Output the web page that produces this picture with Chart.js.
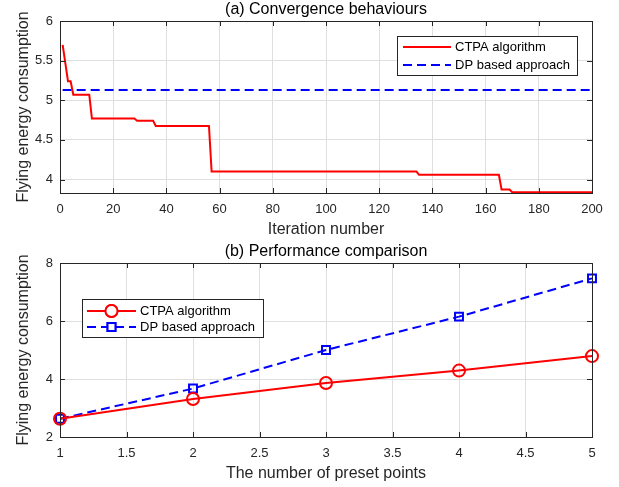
<!DOCTYPE html>
<html>
<head>
<meta charset="utf-8">
<script src="https://cdn.jsdelivr.net/npm/chart.js@4/dist/chart.umd.min.js"></script>
<style>
  body { margin: 0; background: #fff; }
  .panel { position: absolute; left: 0; width: 619px; }
  #top { top: 0; height: 240px; }
  #bottom { top: 240px; height: 247px; }
</style>
</head>
<body>
<div class="panel" id="top"><canvas id="convChart"></canvas></div>
<div class="panel" id="bottom"><canvas id="perfChart"></canvas></div>
<script>
// (a) convergence: breakpoints of the CTPA curve
const iterNum = [1, 3, 4, 5, 11, 12, 28, 29, 35, 36, 56, 57, 134, 135, 165, 166, 169, 170, 200];
const ctpaConv = [5.70, 5.24, 5.24, 5.07, 5.07, 4.77, 4.77, 4.74, 4.74, 4.675, 4.675, 4.10, 4.10, 4.06, 4.06, 3.875, 3.875, 3.84, 3.84];
const dpIter = [1, 200];
const dpConv = [5.13, 5.13];
const convXTicks = [0, 20, 40, 60, 80, 100, 120, 140, 160, 180, 200];
const convYTicks = [4, 4.5, 5, 5.5, 6];

// (b) performance comparison
const presetPoints = [1, 2, 3, 4, 5];
const ctpaPerf = [2.63, 3.31, 3.86, 4.29, 4.79];
const dpPerf = [2.63, 3.67, 5.00, 6.15, 7.47];
const perfXTicks = [1, 1.5, 2, 2.5, 3, 3.5, 4, 4.5, 5];
const perfYTicks = [2, 4, 6, 8];

const FONT = "'Liberation Sans', Arial, Helvetica, sans-serif";
const AXIS = '#262626';
const GRID = '#dfdfdf';
const RED = '#ff0000';
const BLUE = '#0000ff';

// box, inward tick marks, title and legend drawn the MATLAB way
const figDecor = {
  id: 'figDecor',
  afterDatasetsDraw(chart, args, opts) {
    const ctx = chart.ctx;
    const { left, right, top, bottom } = chart.chartArea;
    const xs = chart.scales.x, ys = chart.scales.y;
    ctx.save();
    ctx.strokeStyle = AXIS;
    ctx.lineWidth = 1;
    ctx.beginPath();
    xs.ticks.forEach(t => {
      const px = Math.round(xs.getPixelForValue(t.value)) + 0.5;
      ctx.moveTo(px, bottom); ctx.lineTo(px, bottom - 5);
      ctx.moveTo(px, top); ctx.lineTo(px, top + 5);
    });
    ys.ticks.forEach(t => {
      const py = Math.round(ys.getPixelForValue(t.value)) + 0.5;
      ctx.moveTo(left, py); ctx.lineTo(left + 5, py);
      ctx.moveTo(right, py); ctx.lineTo(right - 5, py);
    });
    ctx.stroke();
    ctx.strokeRect(Math.round(left) + 0.5, Math.round(top) + 0.5,
      Math.round(right - left), Math.round(bottom - top));

    // title
    ctx.fillStyle = '#000';
    ctx.font = '16px ' + FONT;
    ctx.textAlign = 'center';
    ctx.textBaseline = 'middle';
    ctx.fillText(opts.title, (left + right) / 2, opts.titleY);

    // legend
    const lg = opts.legend;
    ctx.fillStyle = '#fff';
    ctx.fillRect(lg.x, lg.y, lg.w, lg.h);
    ctx.strokeStyle = AXIS;
    ctx.strokeRect(lg.x + 0.5, lg.y + 0.5, lg.w, lg.h);
    chart.data.datasets.forEach((ds, i) => {
      const y = lg.y + lg.rowY[i];
      const x0 = lg.x + lg.lineX[0], x1 = lg.x + lg.lineX[1];
      ctx.strokeStyle = ds.borderColor;
      ctx.lineWidth = 2;
      ctx.setLineDash(ds.borderDash || []);
      ctx.beginPath();
      ctx.moveTo(x0, y); ctx.lineTo(x1, y);
      ctx.stroke();
      ctx.setLineDash([]);
      if (ds.pointRadius > 0) {
        ctx.fillStyle = '#fff';
        Chart.helpers.drawPoint(ctx, {
          pointStyle: ds.pointStyle, radius: ds.pointRadius, borderWidth: 2
        }, (x0 + x1) / 2, y);
        ctx.fill();
        ctx.stroke();
      }
      ctx.fillStyle = '#000';
      ctx.font = '13px ' + FONT;
      ctx.textAlign = 'left';
      ctx.fillText(ds.label, lg.x + lg.textX, y);
    });
    ctx.restore();
  }
};

function axisOpts(min, max, tickVals, title, extra) {
  return Object.assign({
    type: 'linear',
    min: min,
    max: max,
    afterBuildTicks: s => { s.ticks = tickVals.map(v => ({ value: v })); },
    grid: { color: GRID, lineWidth: 1, drawTicks: false },
    border: { display: false },
    ticks: {
      color: AXIS,
      font: { family: FONT, size: 13 },
      autoSkip: false,
      maxRotation: 0,
      callback: v => String(v)
    },
    title: { display: true, text: title, color: AXIS, font: { family: FONT, size: 16 } }
  }, extra);
}

Chart.defaults.animation = false;
Chart.defaults.plugins.legend.display = false;
Chart.defaults.plugins.tooltip.enabled = false;

new Chart(document.getElementById('convChart'), {
  type: 'line',
  data: {
    datasets: [
      {
        label: 'CTPA algorithm',
        data: iterNum.map((x, i) => ({ x: x, y: ctpaConv[i] })),
        borderColor: RED,
        borderWidth: 2,
        pointRadius: 0,
        tension: 0
      },
      {
        label: 'DP based approach',
        data: dpIter.map((x, i) => ({ x: x, y: dpConv[i] })),
        borderColor: BLUE,
        borderWidth: 2,
        borderDash: [9, 5],
        pointRadius: 0
      }
    ]
  },
  options: {
    responsive: true,
    maintainAspectRatio: false,
    layout: { padding: { top: 21, right: 27, left: 0, bottom: 0 } },
    scales: {
      x: axisOpts(0, 200, convXTicks, 'Iteration number', {
        afterFit: s => { s.height = 47; }
      }),
      y: axisOpts(3.83, 6, convYTicks, 'Flying energy consumption', {
        afterFit: s => { s.width = 60; }
      })
    },
    plugins: {
      figDecor: {
        title: '(a) Convergence behaviours',
        titleY: 10,
        legend: { x: 397, y: 36, w: 180, h: 39, lineX: [6, 54], textX: 58, rowY: [11, 29] }
      }
    }
  },
  plugins: [figDecor]
});

const convChart = Chart.getChart('convChart');
convChart.options.scales.x.ticks.padding = 9;
convChart.options.scales.x.title.padding = { top: 0, bottom: 0.5 };
convChart.options.scales.y.ticks.padding = 7;
convChart.options.scales.y.title.padding = { top: 13.5, bottom: 0 };
convChart.update();

new Chart(document.getElementById('perfChart'), {
  type: 'line',
  data: {
    datasets: [
      {
        label: 'CTPA algorithm',
        data: presetPoints.map((x, i) => ({ x: x, y: ctpaPerf[i] })),
        borderColor: RED,
        borderWidth: 2,
        pointStyle: 'circle',
        pointRadius: 6,
        pointBorderWidth: 2,
        pointBackgroundColor: 'rgba(255,255,255,0)',
        tension: 0,
        clip: false
      },
      {
        label: 'DP based approach',
        data: presetPoints.map((x, i) => ({ x: x, y: dpPerf[i] })),
        borderColor: BLUE,
        borderWidth: 2,
        borderDash: [9, 5],
        pointStyle: 'rect',
        pointRadius: 5.6,
        pointBorderWidth: 2,
        pointBackgroundColor: 'rgba(255,255,255,0)',
        tension: 0,
        clip: false
      }
    ]
  },
  options: {
    responsive: true,
    maintainAspectRatio: false,
    layout: { padding: { top: 23, right: 27, left: 0, bottom: 0 } },
    scales: {
      x: axisOpts(1, 5, perfXTicks, 'The number of preset points', {
        afterFit: s => { s.height = 50; }
      }),
      y: axisOpts(2, 8, perfYTicks, 'Flying energy consumption', {
        afterFit: s => { s.width = 60; }
      })
    },
    plugins: {
      figDecor: {
        title: '(b) Performance comparison',
        titleY: 12,
        legend: { x: 82, y: 59, w: 181, h: 38, lineX: [5, 54], textX: 58, rowY: [12, 28] }
      }
    }
  },
  plugins: [figDecor]
});

const perfChart = Chart.getChart('perfChart');
perfChart.options.scales.x.ticks.padding = 9;
perfChart.options.scales.x.title.padding = { top: 0, bottom: 4 };
perfChart.options.scales.y.ticks.padding = 7;
perfChart.options.scales.y.title.padding = { top: 13.5, bottom: 0 };
perfChart.update();
</script>
</body>
</html>
